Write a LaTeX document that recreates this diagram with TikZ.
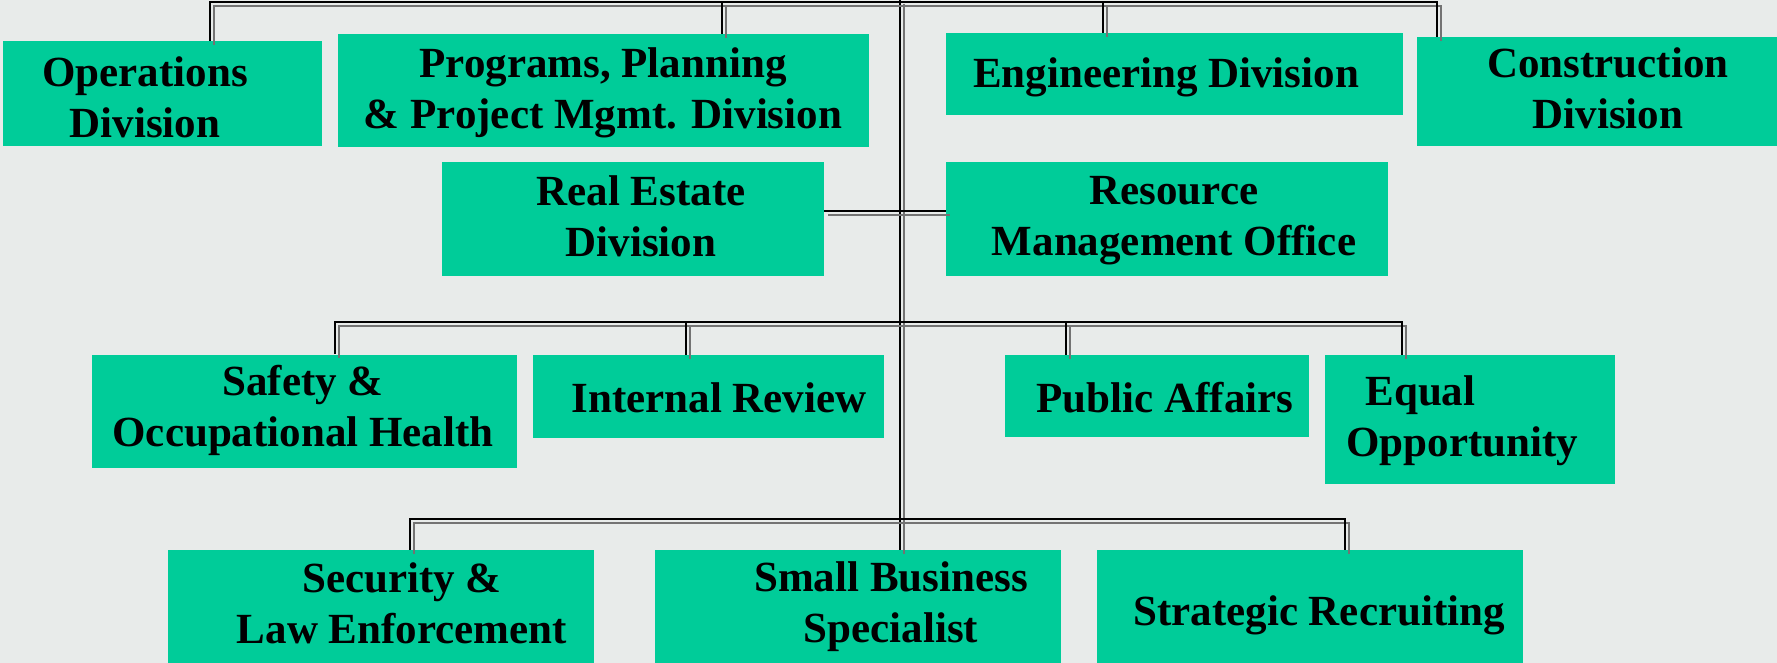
\documentclass[tikz,border=0pt]{standalone}
\usepackage{fontspec}
\setmainfont{Liberation Serif}

\definecolor{unitgreen}{RGB}{0,204,153}
\definecolor{backdrop}{RGB}{232,235,234}

\tikzstyle{unit}=[rectangle,fill=unitgreen,inner sep=0pt]
\tikzstyle{unit_text}=[align=center,inner sep=0pt,font=\fontsize{21.5}{25.5}\selectfont\bfseries]
\tikzstyle{link}=[draw=black,line width=0.8pt,preaction={draw=black!55,line width=1.3pt,transform canvas={shift={(2pt,-2pt)}}}]

\begin{document}
\begin{tikzpicture}[x=0.5pt,y=-0.5pt]

\fill[backdrop] (0,0) rectangle (1777,663);
\useasboundingbox (0,0) rectangle (1777,663);

% divisions
\node [unit,minimum width=159.5pt,minimum height=52.5pt] (ops) at (162.5,93.5) {};
\node [unit,minimum width=265.5pt,minimum height=56.5pt] (prog) at (603.5,90.5) {};
\node [unit,minimum width=228.5pt,minimum height=41pt] (eng) at (1174.5,74) {};
\node [unit,minimum width=180pt,minimum height=54.5pt] (cons) at (1597,91.5) {};
\node [unit,minimum width=191pt,minimum height=57pt] (realestate) at (633,219) {};
\node [unit,minimum width=221pt,minimum height=57pt] (resource) at (1167,219) {};

% offices
\node [unit,minimum width=212.5pt,minimum height=56.5pt] (safety) at (304.5,411) {};
\node [unit,minimum width=175.5pt,minimum height=41.5pt] (internal) at (708.5,396.5) {};
\node [unit,minimum width=152pt,minimum height=41pt] (public) at (1157,396) {};
\node [unit,minimum width=145pt,minimum height=64.5pt] (equal) at (1470,419.5) {};
\node [unit,minimum width=213pt,minimum height=56.5pt] (security) at (381,606.5) {};
\node [unit,minimum width=203pt,minimum height=56.5pt] (smallbiz) at (858,606.5) {};
\node [unit,minimum width=213pt,minimum height=56.5pt] (strategic) at (1310,606.5) {};

\node [unit_text] (ops_text) at (145,97) {Operations\\Division};
\node [unit_text] (prog_text) at (603,92.5) {Programs, Planning\\\& Project Mgmt. Division};
\node [unit_text] (eng_text) at (1166,77.5) {Engineering Division};
\node [unit_text] (cons_text) at (1608,88) {Construction\\Division};
\node [unit_text] (realestate_text) at (641,216) {Real Estate\\Division};
\node [unit_text] (resource_text) at (1174,220.5) {Resource\\Management Office};
\node [unit_text] (safety_text) at (303,410.5) {Safety \&\\Occupational Health};
\node [unit_text] (internal_text) at (719,398) {Internal Review};
\node [unit_text] (public_text) at (1165,398) {Public Affairs};
\node [unit_text,align=left,anchor=west] (equal_text) at (1346,421) {\hspace{9.5pt}Equal\\Opportunity};
\node [unit_text] (security_text) at (402,603) {Security \&\\Law Enforcement};
\node [unit_text] (smallbiz_text) at (891,607) {Small Business\\Specialist};
\node [unit_text] (strategic_text) at (1319,615.5) {Strategic Recruiting};

% bus points
\coordinate (trunk_top) at (900,0);
\coordinate (bus1_left) at (210,2);
\coordinate (bus1_prog) at (722,2);
\coordinate (bus1_eng) at (1103,2);
\coordinate (bus1_right) at (1437,2);
\coordinate (re_link) at (900,211);
\coordinate (bus2_left) at (335,322);
\coordinate (bus2_internal) at (686,322);
\coordinate (bus2_public) at (1066,322);
\coordinate (bus2_right) at (1402,322);
\coordinate (bus3_left) at (410,519);
\coordinate (bus3_right) at (1345,519);

\draw[link] (trunk_top) -- (smallbiz.north -| trunk_top);

\draw[link] (ops.north -| bus1_left) |- (bus1_right) -- (cons.north -| bus1_right);
\draw[link] (bus1_prog) -- (prog.north -| bus1_prog);
\draw[link] (bus1_eng) -- (eng.north -| bus1_eng);

\draw[link] (realestate.east |- re_link) -- (resource.west |- re_link);

\draw[link] (safety.north -| bus2_left) |- (bus2_right) -- (equal.north -| bus2_right);
\draw[link] (bus2_internal) -- (internal.north -| bus2_internal);
\draw[link] (bus2_public) -- (public.north -| bus2_public);

\draw[link] (security.north -| bus3_left) |- (bus3_right) -- (strategic.north -| bus3_right);

\end{tikzpicture}
\end{document}
